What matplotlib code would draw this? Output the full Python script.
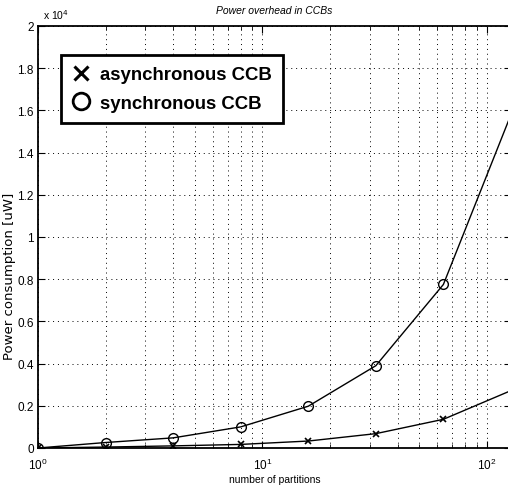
import matplotlib
matplotlib.use("Agg")
import matplotlib.pyplot as plt
from matplotlib.ticker import FixedLocator, LogLocator, NullFormatter
from matplotlib.lines import Line2D

plt.rcParams['font.family'] = ['Liberation Sans', 'DejaVu Sans']

partitions = [1, 2, 4, 8, 16, 32, 64, 128]
async_power = [0, 45, 100, 170, 330, 680, 1360, 2720]
sync_power = [0, 260, 480, 1000, 1980, 3900, 7750, 15800]
marker_count = 7  # markers drawn on the first 7 points

y_ticks = [0, 2000, 4000, 6000, 8000, 10000, 12000, 14000, 16000, 18000, 20000]
y_tick_labels = ['0', '0.2', '0.4', '0.6', '0.8', '1', '1.2', '1.4', '1.6', '1.8', '2']

fig = plt.figure(figsize=(5.08, 4.89), dpi=100)
ax = fig.add_axes([0.0748, 0.0818, 0.931, 0.863])

ax.plot(partitions, sync_power, color='black', linewidth=1.0, zorder=3)
ax.plot(partitions[:marker_count], sync_power[:marker_count], linestyle='none',
        marker='o', markersize=7, markerfacecolor='none', markeredgecolor='black',
        markeredgewidth=1.0, zorder=4)
ax.plot(partitions, async_power, color='black', linewidth=1.0, zorder=3)
ax.plot(partitions[:marker_count], async_power[:marker_count], linestyle='none',
        marker='x', markersize=5, markeredgecolor='black', markeredgewidth=1.2, zorder=4)

ax.set_xscale('log')
ax.set_xlim(1, 128)
ax.set_ylim(0, 20000)
ax.yaxis.set_major_locator(FixedLocator(y_ticks))
ax.set_yticklabels(y_tick_labels)
ax.xaxis.set_major_locator(LogLocator(base=10))
ax.xaxis.set_minor_locator(LogLocator(base=10, subs=range(2, 10)))
ax.xaxis.set_minor_formatter(NullFormatter())

ax.grid(True, which='both', axis='x', linestyle=(0, (1, 4)), color='black', linewidth=0.7)
ax.grid(True, which='major', axis='y', linestyle=(0, (1, 4)), color='black', linewidth=0.7)

ax.tick_params(which='both', direction='in', top=True, right=True, labelsize=8.5)
ax.tick_params(which='major', length=5)
ax.tick_params(which='minor', length=3)
ax.tick_params(axis='x', which='major', pad=6)
ax.tick_params(axis='y', which='major', pad=3)
for s in ax.spines.values():
    s.set_linewidth(1.3)

ax.set_title('Power overhead in CCBs', fontsize=7.5, style='italic', pad=9)
ax.set_xlabel('number of partitions', fontsize=7.5, labelpad=2)
ax.set_ylabel('Power consumption [uW]', fontsize=9.5, family=['DejaVu Sans'])
ax.yaxis.set_label_coords(-0.047, 0.41)
ax.text(0.01, 1.012, r'x 10$^4$', transform=ax.transAxes, fontsize=7.5, ha='left', va='bottom')

# legend box
h1 = Line2D([], [], linestyle='none', marker='x', markersize=10, markeredgewidth=2.2, color='black')
h2 = Line2D([], [], linestyle='none', marker='o', markersize=12, markerfacecolor='none',
            markeredgewidth=2.0, color='black')
leg = ax.legend([h1, h2], ['asynchronous CCB', 'synchronous CCB'],
                loc='upper left', bbox_to_anchor=(0.0486, 0.931),
                prop={'weight': 'bold', 'size': 13.4}, frameon=True, fancybox=False,
                edgecolor='black', borderpad=0.6, handlelength=1.0, handletextpad=0.5,
                labelspacing=0.6, borderaxespad=0)
leg.get_frame().set_linewidth(2.0)
leg.get_frame().set_alpha(1)

fig.savefig('out.png', dpi=100)
